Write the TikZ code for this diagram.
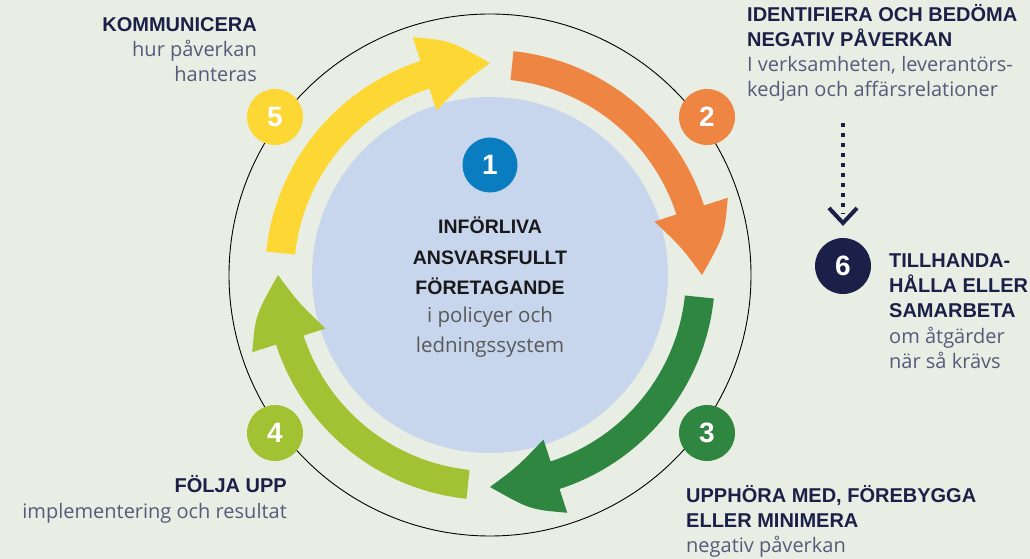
\documentclass[tikz,border=0pt]{standalone}
\usepackage{fontspec}
\setmainfont{Liberation Sans}
\newfontfamily\lightfont{Open Sans}
\definecolor{bg}{HTML}{E8EEE3}
\definecolor{cyel}{HTML}{FDD835}
\definecolor{corg}{HTML}{EE8542}
\definecolor{cdg}{HTML}{2E8640}
\definecolor{clg}{HTML}{A1C232}
\definecolor{cblue}{HTML}{0A7DC0}
\definecolor{navy}{HTML}{1B2048}
\definecolor{lblue}{HTML}{C7D6EC}
\definecolor{bodytxt}{HTML}{555B7A}
\tikzset{
  numc/.style={circle, minimum size=56pt, inner sep=0pt, text=white,
    font=\bfseries\fontsize{28}{28}\selectfont},
  hdr/.style={inner sep=0pt, text=navy, font=\bfseries\fontsize{20}{24}\selectfont},
  bdy/.style={inner sep=0pt, text=bodytxt, font=\lightfont\fontsize{20}{24}\selectfont},
  chdr/.style={inner sep=0pt, text=black!90, font=\bfseries\fontsize{19.5}{24}\selectfont},
  cbdy/.style={inner sep=0pt, text=black!65, font=\lightfont\fontsize{20.5}{24}\selectfont},
  dots/.style={navy, line width=4pt, dash pattern=on 4pt off 6pt},
  chev/.style={navy, line width=4pt},
}
\begin{document}
\begin{tikzpicture}[x=1pt, y=1pt]
\useasboundingbox (0,0) rectangle (1030,559);
\fill[bg] (0,0) rectangle (1030,559);
\coordinate (C) at (490,284);
\draw[black, line width=0.9pt] (C) circle[radius=261];
\fill[lblue] (C) circle[radius=178];
\begin{scope}[shift={(490,284)}]
\foreach \t/\c in {90/cyel, 0/corg, -90/cdg, 180/clg}{
  \fill[\c] ({\t+84}:225) arc[start angle={\t+84}, end angle={\t+18}, radius=225]
    -- ({\t+18}:250) .. controls ({\t+9.7}:238) .. (\t:212)
    .. controls ({\t+8}:194) .. ({\t+18}:173)
    -- ({\t+18}:196) arc[start angle={\t+18}, end angle={\t+84}, radius=196] -- cycle;
}
\end{scope}
% number circles
\node[numc, fill=cblue, minimum size=55pt] (n1) at (490,394) {1};
\node[numc, fill=corg] (n2) at (707,442) {2};
\node[numc, fill=cdg] (n3) at (707,126) {3};
\node[numc, fill=clg] (n4) at (275,126) {4};
\node[numc, fill=cyel] (n5) at (275,442) {5};
\node[numc, fill=navy] (n6) at (843,293) {6};
% center text
\node[chdr, anchor=base] (c1) at (490,325) {INFÖRLIVA};
\node[chdr, anchor=base] (c2) at (490,294) {ANSVARSFULLT};
\node[chdr, anchor=base] (c3) at (490,264) {FÖRETAGANDE};
\node[cbdy, anchor=base] (c4) at (490,236) {i policyer och};
\node[cbdy, anchor=base] (c5) at (490,206) {ledningssystem};
% 5 text
\node[hdr, anchor=base east] (t5a) at (257,527) {KOMMUNICERA};
\node[bdy, anchor=base east] (t5b) at (257,502) {hur påverkan};
\node[bdy, anchor=base east] (t5c) at (257,477) {hanteras};
% 2 text
\node[hdr, anchor=base west] (t2a) at (747,537) {IDENTIFIERA OCH BEDÖMA};
\node[hdr, anchor=base west] (t2b) at (747,512) {NEGATIV PÅVERKAN};
\node[bdy, anchor=base west] (t2c) at (747,487) {I verksamheten, leverantörs-};
\node[bdy, anchor=base west] (t2d) at (747,462) {kedjan och affärsrelationer};
% 6 text
\node[hdr, anchor=base west] (t6a) at (889,291) {TILLHANDA-};
\node[hdr, anchor=base west] (t6b) at (889,266) {HÅLLA ELLER};
\node[hdr, anchor=base west] (t6c) at (889,241) {SAMARBETA};
\node[bdy, anchor=base west] (t6d) at (889,215) {om åtgärder};
\node[bdy, anchor=base west] (t6e) at (889,190) {när så krävs};
% 3 text
\node[hdr, anchor=base west] (t3a) at (686,56) {UPPHÖRA MED, FÖREBYGGA};
\node[hdr, anchor=base west] (t3b) at (686,31) {ELLER MINIMERA};
\node[bdy, anchor=base west] (t3c) at (686,6) {negativ påverkan};
% 4 text
\node[hdr, anchor=base east] (t4a) at (287,66) {FÖLJA UPP};
\node[bdy, anchor=base east] (t4b) at (287,40) {implementering och resultat};
% dotted connector 2 -> 6
\coordinate (dtop) at (843,436);
\coordinate (dbot) at (843,345);
\coordinate (dtip) at (843,336);
\coordinate (arml) at (829,351);
\coordinate (armr) at (857,351);
\draw[dots] (dtop) -- (dbot);
\draw[chev] (arml) -- (dtip) -- (armr);
\end{tikzpicture}
\end{document}
